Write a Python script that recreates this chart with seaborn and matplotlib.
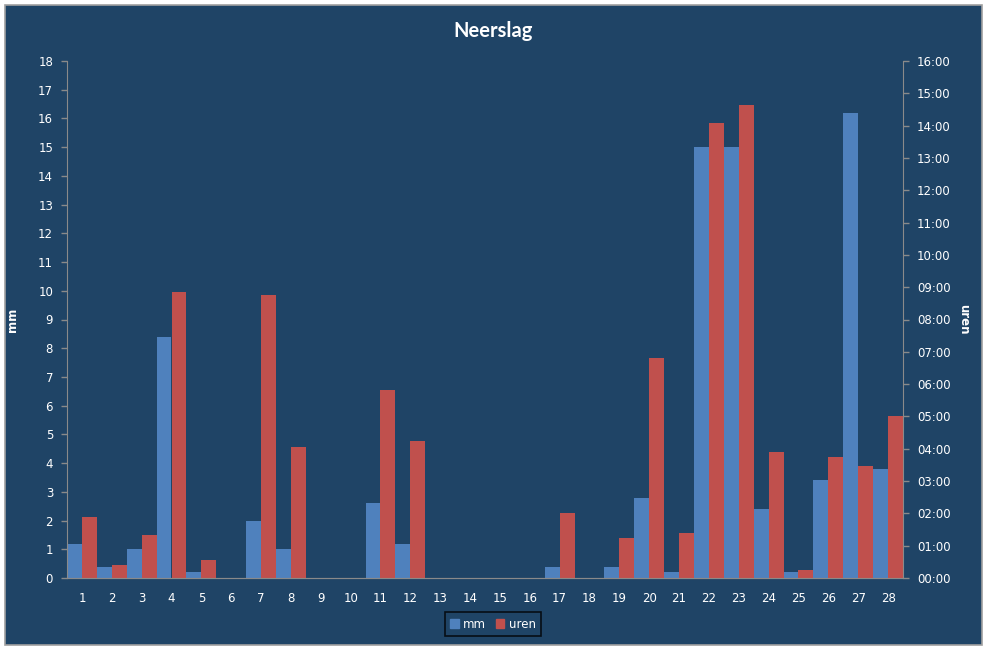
import matplotlib
matplotlib.use("Agg")
import matplotlib.pyplot as plt
import matplotlib.patches as mpatches
from matplotlib.ticker import FixedLocator, FuncFormatter
import seaborn as sns
import pandas as pd
import numpy as np

# data
days = [str(d) for d in range(1, 29)]
mm = [1.2, 0.4, 1.0, 8.4, 0.2, 0, 2.0, 1.0, 0, 0,
      2.6, 1.2, 0, 0, 0, 0, 0.4, 0, 0.4, 2.8,
      0.2, 15.0, 15.0, 2.4, 0.2, 3.4, 16.2, 3.8]
# hours of rain (decimal hours)
uren = [1.9, 0.4, 1.33, 8.86, 0.56, 0, 8.77, 4.06, 0, 0,
        5.82, 4.24, 0, 0, 0, 0, 2.0, 0, 1.25, 6.82,
        1.4, 14.07, 14.65, 3.9, 0.25, 3.75, 3.47, 5.0]

BG = "#1F4466"
BLUE = "#4F81BD"
RED = "#C0504D"
AXIS = "#8A8A8A"
TXT = "#FFFFFF"


def main():
    sns.set_style("white")
    plt.rcParams["font.family"] = ["DejaVu Sans"]

    fig = plt.figure(figsize=(9.87, 6.48), dpi=100, facecolor="white")
    fig.patches.append(mpatches.Rectangle((5 / 987, 1 - 645 / 648), 977 / 987, 640 / 648,
                                          transform=fig.transFigure, facecolor=BG,
                                          edgecolor="#A0A0A0", linewidth=1.2, zorder=-10))

    ax = fig.add_axes([67 / 987, 1 - 578 / 648, 836 / 987, 517 / 648])
    ax.set_facecolor("none")
    ax2 = ax.twinx()

    # each axis gets both series so the dodge positions line up; the other series is zero
    df1 = pd.DataFrame({"dag": days * 2, "v": mm + [0] * 28,
                        "serie": ["mm"] * 28 + ["uren"] * 28})
    df2 = pd.DataFrame({"dag": days * 2, "v": [0] * 28 + uren,
                        "serie": ["mm"] * 28 + ["uren"] * 28})
    pal = {"mm": BLUE, "uren": RED}
    sns.barplot(data=df1, x="dag", y="v", hue="serie", palette=pal, ax=ax,
                width=1.0, gap=0, saturation=1, linewidth=0, legend=False)
    sns.barplot(data=df2, x="dag", y="v", hue="serie", palette=pal, ax=ax2,
                width=1.0, gap=0, saturation=1, linewidth=0, legend=False)

    ax.set_xlim(-0.5, 27.5)
    ax.set_ylim(0, 18)
    ax2.set_ylim(0, 16)

    ax.yaxis.set_major_locator(FixedLocator(range(0, 19)))
    ax2.yaxis.set_major_locator(FixedLocator(range(0, 17)))
    ax2.yaxis.set_major_formatter(FuncFormatter(lambda v, p: "%02d:00" % int(round(v))))

    ax.set_xticks(np.arange(-0.5, 28, 1), minor=True)
    ax.tick_params(axis="x", which="major", length=0, pad=10, colors=TXT, labelsize=8.5)
    ax.tick_params(axis="x", which="minor", length=4, width=1, color=AXIS, direction="out")
    ax.tick_params(axis="y", length=4, width=1, color=AXIS, direction="out",
                   labelcolor=TXT, labelsize=8.5, pad=6)
    ax2.tick_params(axis="y", length=4, width=1, color=AXIS, direction="out",
                    labelcolor=TXT, labelsize=8.5, pad=6)

    for a in (ax, ax2):
        a.set_xlabel("")
        for s in a.spines.values():
            s.set_visible(False)
        a.spines["bottom"].set_visible(True)
        a.spines["bottom"].set_color(AXIS)
    ax.spines["left"].set_visible(True)
    ax.spines["left"].set_color(AXIS)
    ax2.spines["right"].set_visible(True)
    ax2.spines["right"].set_color(AXIS)

    ax.set_ylabel("mm", color=TXT, fontsize=8.5, fontweight="bold", labelpad=14)
    ax2.set_ylabel("uren", color=TXT, fontsize=8.5, fontweight="bold",
                   rotation=270, labelpad=14)

    fig.text(493 / 987, 1 - 31 / 648, "Neerslag", ha="center", va="center",
             color=TXT, fontsize=14.5, fontweight="bold", family=["Lato", "DejaVu Sans"])

    handles = [mpatches.Patch(color=BLUE, label="mm"), mpatches.Patch(color=RED, label="uren")]
    leg = fig.legend(handles=handles, loc="center", bbox_to_anchor=(493 / 987, 1 - 624 / 648),
                     ncol=2, frameon=True, fancybox=False, fontsize=8.5,
                     handlelength=0.7, handleheight=0.7, handletextpad=0.4,
                     columnspacing=0.8, borderpad=0.45)
    leg.get_frame().set_facecolor(BG)
    leg.get_frame().set_edgecolor("black")
    leg.get_frame().set_linewidth(1.2)
    for t in leg.get_texts():
        t.set_color(TXT)

    fig.savefig("out.png", dpi=100, facecolor=fig.get_facecolor())


if __name__ == "__main__":
    main()
